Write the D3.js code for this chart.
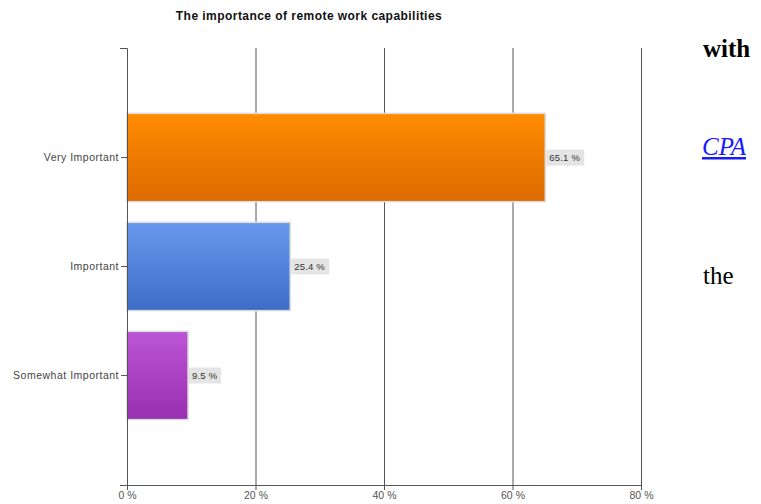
<!DOCTYPE html>
<html>
<head>
<meta charset="utf-8">
<script src="https://cdn.jsdelivr.net/npm/d3@7"></script>
<style>
  body { margin: 0; background: #fff; }
  svg text { font-family: "Liberation Sans", Arial, sans-serif; }
</style>
</head>
<body>
<div class="container"></div>
<script>
// horizontal bar chart: importance of remote work

var categories = ["Very Important", "Important", "Somewhat Important"];
var values = [65.1, 25.4, 9.5];
var xTicks = [0, 20, 40, 60, 80];
var barColors = [["#ff8c00", "#dd6a00"], ["#6898ec", "#3d6cc8"], ["#bc55d6", "#982fb0"]];

var width = 761;
var height = 504;
var plotLeft = 127, plotRight = 641, plotTop = 48, plotBottom = 485;

const svg = d3.select(".container")
    .append("svg")
    .attr("width", width)
    .attr("height", height);

var x = d3.scaleLinear().domain([0, 80]).range([plotLeft, plotRight]);
var y = d3.scaleBand().domain(categories).range([plotTop, plotBottom])
    .paddingInner(0.19).paddingOuter(0.6);

// gradients
var defs = svg.append("defs");
barColors.forEach(function(c, i)
{
    var g = defs.append("linearGradient")
        .attr("id", "grad" + i)
        .attr("x1", 0).attr("y1", 0).attr("x2", 0).attr("y2", 1);
    g.append("stop").attr("offset", "0%").attr("stop-color", c[0]);
    g.append("stop").attr("offset", "100%").attr("stop-color", c[1]);
});

// title
svg.append("text")
    .attr("x", 309)
    .attr("y", 20)
    .attr("text-anchor", "middle")
    .style("font-size", "12px")
    .style("letter-spacing", "0.45px")
    .style("font-weight", "bold")
    .style("fill", "#111")
    .text("The importance of remote work capabilities");

// vertical grid lines
svg.append("g")
    .selectAll("line")
    .data(xTicks.slice(1))
    .enter()
    .append("line")
    .attr("x1", function(d) { return x(d) + 0.5; })
    .attr("x2", function(d) { return x(d) + 0.5; })
    .attr("y1", plotTop)
    .attr("y2", plotBottom)
    .style("stroke", "#555")
    .style("stroke-width", 1);

// bars
svg.append("g")
    .selectAll("rect")
    .data(values)
    .enter()
    .append("rect")
    .attr("x", x(0))
    .attr("y", function(d, i) { return y(categories[i]); })
    .attr("width", function(d) { return x(d) - x(0); })
    .attr("height", y.bandwidth())
    .style("fill", function(d, i) { return "url(#grad" + i + ")"; })
    .style("stroke", "#dcdcdc")
    .style("stroke-width", 1.5);

// value labels
var lab = svg.append("g")
    .selectAll("g")
    .data(values)
    .enter()
    .append("g")
    .attr("transform", function(d, i)
    {
        return "translate(" + (x(d) + 1) + "," + (y(categories[i]) + y.bandwidth() / 2) + ")";
    });

lab.append("rect")
    .attr("x", 0)
    .attr("y", -8)
    .attr("height", 16)
    .attr("width", function(d) { return d < 10 ? 32 : 38; })
    .style("fill", "#e4e4e4");

lab.append("text")
    .attr("x", 3)
    .attr("dy", "0.35em")
    .style("font-size", "9.5px")
    .style("letter-spacing", "0.2px")
    .style("fill", "#333")
    .text(function(d) { return d.toFixed(1) + " %"; });

// y axis
var yAxis = svg.append("g")
    .attr("transform", "translate(" + plotLeft + ",0)")
    .call(d3.axisLeft(y).tickSize(6).tickSizeOuter(7).tickPadding(2));
yAxis.select(".domain").style("stroke", "#555");
yAxis.selectAll(".tick line").style("stroke", "#555");
yAxis.selectAll("text")
    .style("font-size", "10.5px")
    .style("letter-spacing", "0.5px")
    .style("font-family", "Liberation Sans, Arial, sans-serif")
    .style("fill", "#444");

// x axis
var xAxis = svg.append("g")
    .attr("transform", "translate(0," + plotBottom + ")")
    .call(d3.axisBottom(x).tickValues(xTicks).tickSize(5).tickSizeOuter(0).tickPadding(2)
        .tickFormat(function(d) { return d + " %"; }));
xAxis.select(".domain").style("stroke", "#555");
xAxis.selectAll(".tick line").style("stroke", "#555");
xAxis.selectAll("text")
    .style("font-size", "10.5px")
    .style("font-family", "Liberation Sans, Arial, sans-serif")
    .style("fill", "#555");

// page text on the right
var side = svg.append("g");
side.append("text")
    .attr("x", 703).attr("y", 57)
    .style("font-family", "Liberation Serif, serif")
    .style("font-size", "25px").style("font-weight", "bold").style("fill", "#000")
    .text("with");
side.append("text")
    .attr("x", 702).attr("y", 155)
    .style("font-family", "Liberation Serif, serif")
    .style("font-size", "25px").style("font-style", "italic").style("fill", "#1a1aff")
    .style("text-decoration", "underline")
    .text("CPA");
side.append("text")
    .attr("x", 703).attr("y", 284)
    .style("font-family", "Liberation Serif, serif")
    .style("font-size", "25px").style("fill", "#000")
    .text("the");
</script>
</body>
</html>
